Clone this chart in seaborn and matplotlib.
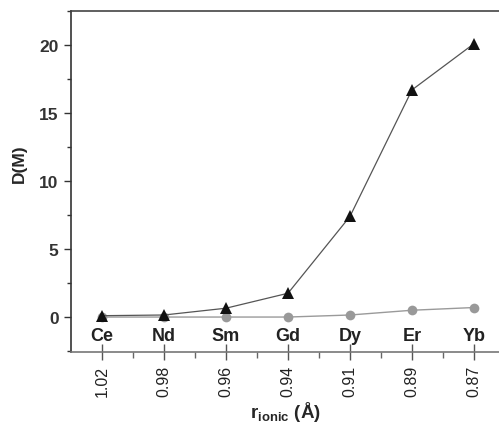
import matplotlib
matplotlib.use("Agg")
import matplotlib.pyplot as plt
import seaborn as sns
import numpy as np
import pandas as pd
from matplotlib.ticker import MultipleLocator

elements = ["Ce", "Nd", "Sm", "Gd", "Dy", "Er", "Yb"]
r_ionic = ["1.02", "0.98", "0.96", "0.94", "0.91", "0.89", "0.87"]
d_triangle = [0.1, 0.15, 0.65, 1.75, 7.4, 16.7, 20.1]
d_circle = [0.0, 0.0, 0.0, 0.0, 0.15, 0.5, 0.7]

sns.set_theme(style="ticks")
plt.rcParams['font.family'] = ['Liberation Sans', 'DejaVu Sans']
plt.rcParams['mathtext.fontset'] = 'custom'
plt.rcParams['mathtext.bf'] = 'Liberation Sans:bold'
plt.rcParams['mathtext.rm'] = 'Liberation Sans'

df = pd.DataFrame({"pos": np.arange(len(elements)), "tri": d_triangle, "circ": d_circle})

fig = plt.figure(figsize=(4.99, 4.27), dpi=100)
ax = fig.add_axes([71/499, 74/427, 428/499, 341/427])

sns.lineplot(data=df, x="pos", y="circ", ax=ax, color="#9a9a9a", lw=1.0,
             marker="o", markersize=7, markeredgewidth=0, markerfacecolor="#999999")
sns.lineplot(data=df, x="pos", y="tri", ax=ax, color="#555555", lw=0.9,
             marker="^", markersize=8, markeredgewidth=0, markerfacecolor="#111111")

ax.set_xlim(-0.5, (499 - 102) / 62)
ax.set_ylim(-2.57, 22.5)

ax.set_xticks(df["pos"])
ax.set_xticklabels(r_ionic, rotation=90, fontsize=11.5, color="#222222")
ax.set_xticks(df["pos"][:-1] + 0.5, minor=True)
ax.yaxis.set_major_locator(MultipleLocator(5))
ax.yaxis.set_minor_locator(MultipleLocator(2.5))
ax.tick_params(axis="y", which="major", direction="out", length=5, width=1, labelsize=12.5,
               colors="#333333", pad=4)
ax.tick_params(axis="y", which="minor", direction="out", length=3, width=1, colors="#333333")
ax.tick_params(axis="x", which="major", direction="inout", length=11, width=1, pad=4,
               colors="#555555", labelcolor="#222222")
ax.tick_params(axis="x", which="minor", direction="out", length=4, width=1, colors="#666666")
plt.setp(ax.get_yticklabels(), fontweight="bold")

for i, el in enumerate(elements):
    ax.text(i, -1.35, el, ha="center", va="center", fontsize=13, fontweight="bold", color="#222222")

ax.set_xlabel(r"$\mathbf{r}_{\mathbf{ionic}}$ (Å)", fontsize=13.5, fontweight="bold", labelpad=2)
ax.set_ylabel("D(M)", fontsize=12.5, fontweight="bold")
ax.yaxis.set_label_coords(-0.102, 0.554)

ax.spines["right"].set_visible(False)
ax.spines["left"].set_color("#333333")
ax.spines["top"].set_color("#444444")
ax.spines["bottom"].set_color("#777777")
for s in ["left", "top", "bottom"]:
    ax.spines[s].set_linewidth(1.2)

fig.savefig("out.png", dpi=100)
